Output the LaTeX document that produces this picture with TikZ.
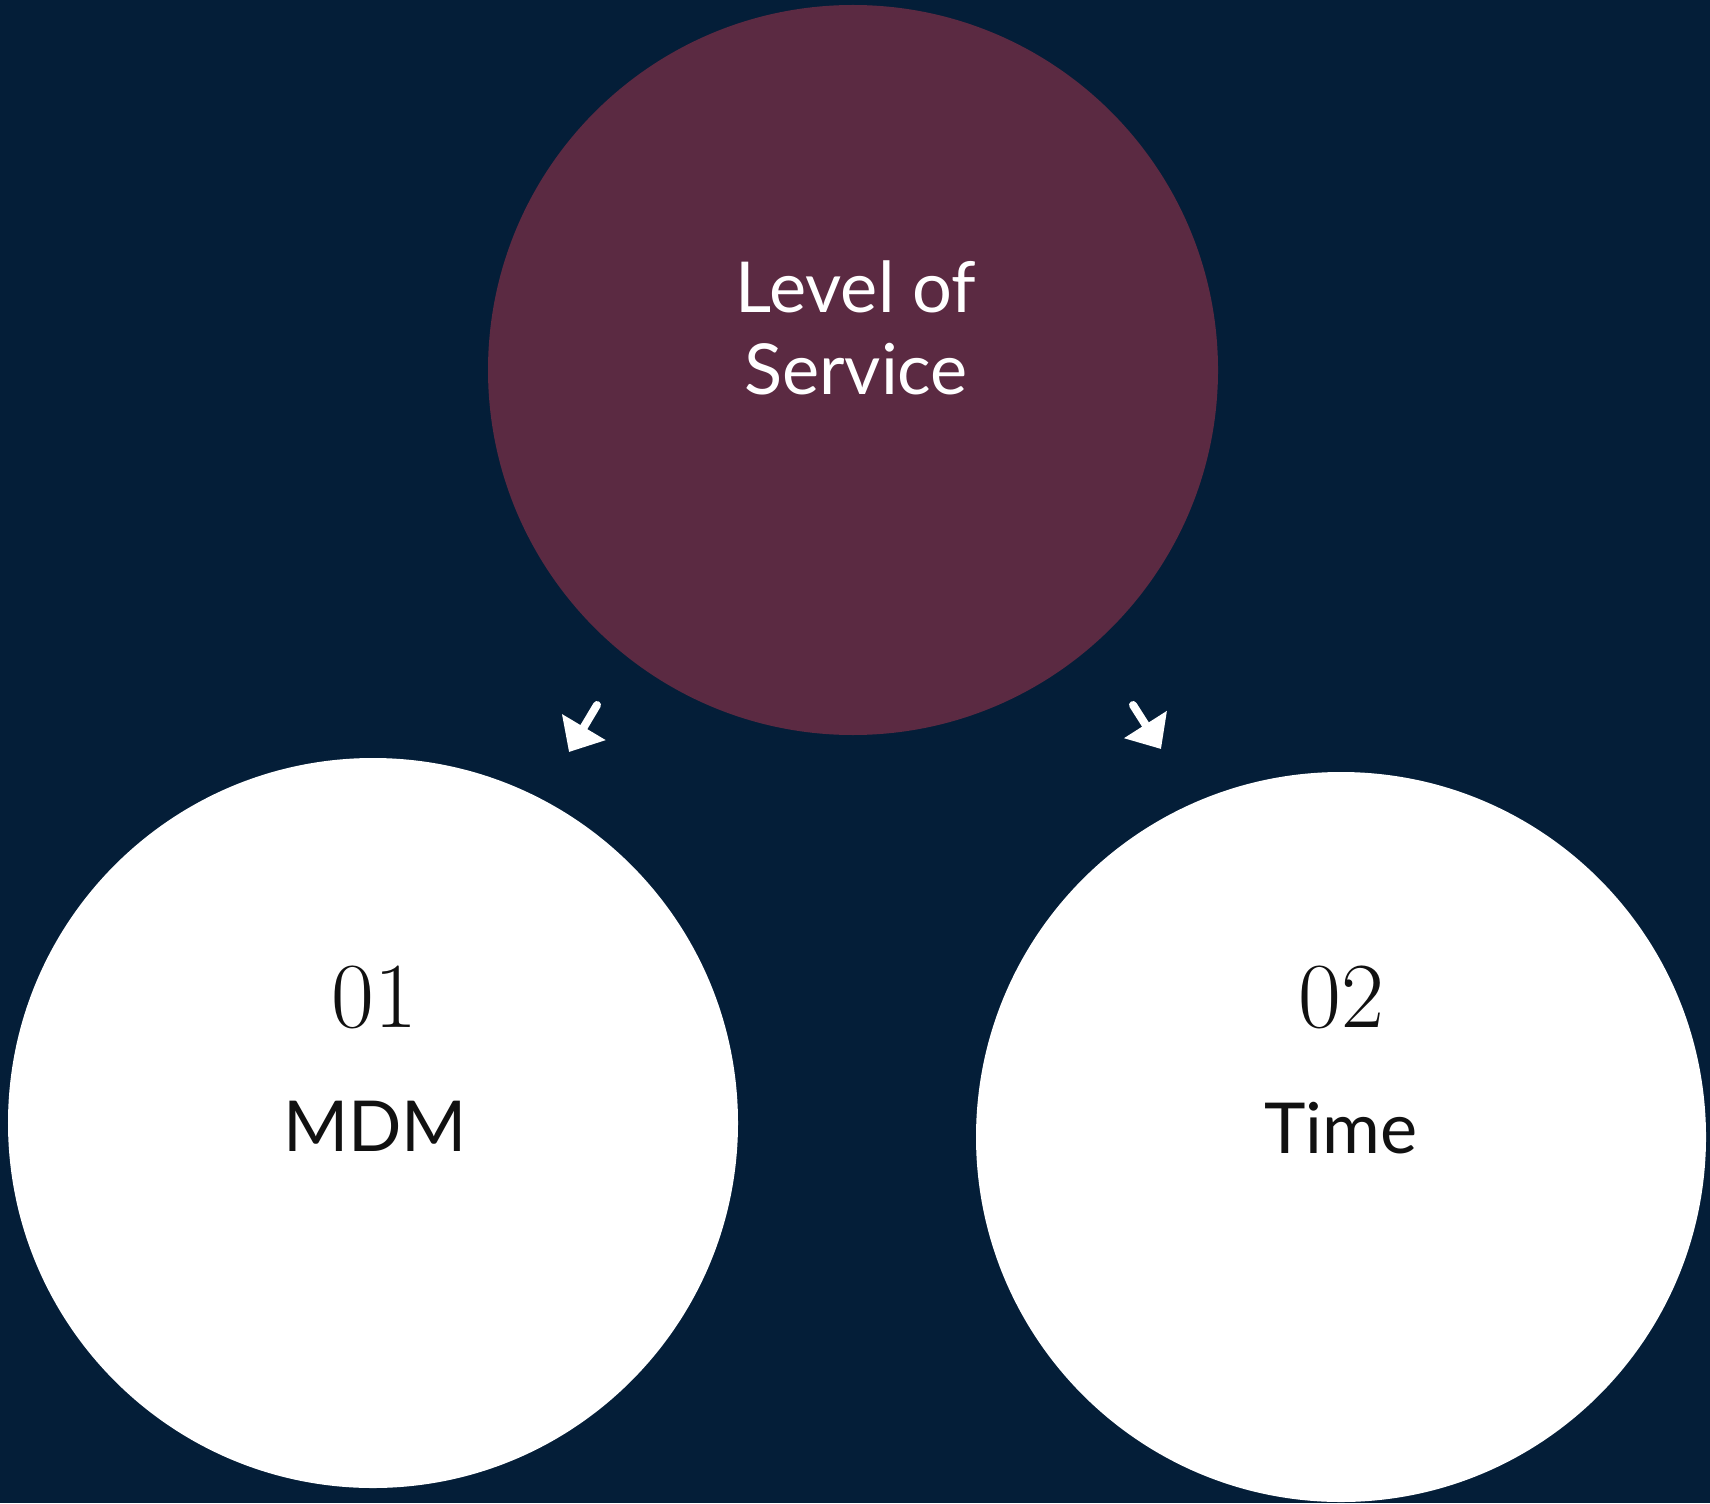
\documentclass[tikz,border=0pt]{standalone}
\usepackage{fontspec}
\newfontfamily\labelfont{Lato}
\usetikzlibrary{arrows.meta, positioning}
\definecolor{cnavy}{HTML}{041E38}
\definecolor{cplum}{HTML}{5B2A42}
\definecolor{cink}{HTML}{111111}
\tikzset{
  every picture/.style={line width=1.2pt},
  bubble/.style={circle, fill=#1, draw=none, minimum size=7.3cm, inner sep=0pt},
  bubble/.default=white,
  word/.style={font=\labelfont\fontsize{20}{23.3}\selectfont, anchor=base, inner sep=0pt},
  num/.style={font=\fontsize{26.5}{30}\selectfont, anchor=base, inner sep=0pt, text=cink},
  arrow/.style={-{Triangle[length=0.29cm, width=0.49cm]}, draw=white, line width=0.08cm, line cap=round},
}
\begin{document}
\begin{tikzpicture}
  \useasboundingbox (0,0) rectangle (17.1,15.03);
  \fill[cnavy] (0,0) rectangle (17.1,15.03);
  % the three circles
  \node[bubble=cplum] (service) at (8.53,11.33) {};
  \node[bubble] (mdm) at (3.73,3.80) {};
  \node[bubble] (time) at (13.41,3.66) {};
  % labels
  \node[word, text=white] (serviceA) at (8.56,11.90) {Level of};
  \node[word, text=white] (serviceB) at (8.56,11.08) {Service};
  \node[num] (mdmNum) at (3.74,4.76) {01};
  \node[word, text=cink] (mdmName) at (3.75,3.52) {MDM};
  \node[num] (timeNum) at (13.41,4.76) {02};
  \node[word, text=cink] (timeName) at (13.41,3.50) {Time};
  % arrows
  \coordinate (leftFrom) at (5.97,7.98);
  \coordinate (leftTo) at (5.69,7.51);
  \coordinate (rightFrom) at (11.33,7.98);
  \coordinate (rightTo) at (11.61,7.54);
  \draw[arrow] (leftFrom) -- (leftTo);
  \draw[arrow] (rightFrom) -- (rightTo);
\end{tikzpicture}
\end{document}
